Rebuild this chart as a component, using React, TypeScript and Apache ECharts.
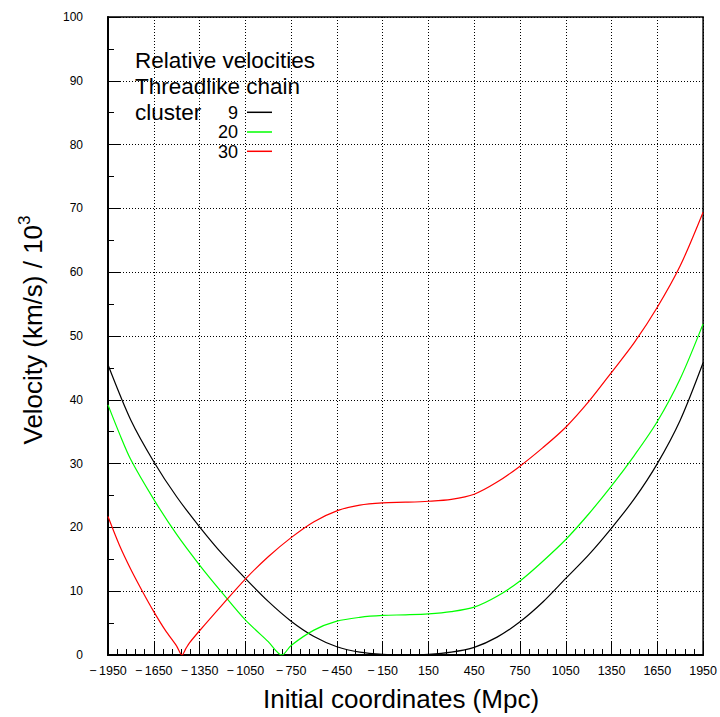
import React, { useEffect, useRef } from "react";
import * as echarts from "echarts";

// Shift so that ticks start at 0 (multiple of the interval); labels show the real coordinate.
const X_OFFSET = 1950;
const X_TICK_STEP = 300;
const Y_TICK_STEP = 10;

const CLUSTER_LABELS = ["9", "20", "30"];
const SERIES_COLORS = ["#000000", "#00ff00", "#ff0000"];

const BLACK_X = [-1950, -1800, -1650, -1500, -1350, -1200, -1050, -900, -750, -600, -450, -300, -150, 0, 150, 300, 450, 600, 750, 900, 1050, 1200, 1350, 1500, 1650, 1800, 1950];
const BLACK_Y = [45.5, 36.8, 30.3, 24.8, 20.1, 15.8, 12.0, 8.4, 5.3, 2.9, 1.3, 0.45, 0.12, 0.05, 0.12, 0.45, 1.2, 2.8, 5.2, 8.3, 12.0, 15.7, 19.9, 24.5, 30.0, 36.8, 45.8];

const GREEN_X = [-1950, -1875, -1800, -1650, -1500, -1350, -1200, -1050, -900, -810, -750, -600, -450, -300, -150, 0, 150, 300, 450, 600, 750, 900, 1050, 1200, 1350, 1500, 1650, 1800, 1950];
const GREEN_Y = [39.2, 34.7, 30.6, 24.4, 18.9, 14.1, 9.7, 5.5, 2.1, 0, 1.5, 3.9, 5.3, 5.9, 6.2, 6.3, 6.45, 6.8, 7.5, 9.2, 11.6, 14.7, 18.1, 22.1, 26.5, 31.3, 36.6, 43.3, 51.9];

const RED_X = [-1950, -1875, -1800, -1725, -1650, -1575, -1500, -1465, -1440, -1416, -1350, -1200, -1050, -900, -750, -600, -450, -300, -150, 0, 150, 300, 450, 600, 750, 900, 1050, 1200, 1350, 1500, 1650, 1800, 1950];
const RED_Y = [21.7, 17.2, 13.4, 10.0, 6.8, 3.9, 1.4, 0, 1.0, 1.9, 3.8, 7.9, 11.9, 15.4, 18.4, 20.9, 22.6, 23.5, 23.85, 23.95, 24.1, 24.4, 25.2, 27.1, 29.6, 32.5, 35.7, 39.7, 44.3, 49.0, 54.5, 61.0, 69.4];

const FONT = "'Liberation Sans', Arial, Helvetica, sans-serif";

function toPairs(xs: number[], ys: number[]) {
  return xs.map((x, i) => [x + X_OFFSET, ys[i]]);
}

export default function App() {
  const ref = useRef<HTMLDivElement>(null);

  useEffect(() => {
    if (!ref.current) return;
    const chart = echarts.init(ref.current, undefined, { renderer: "svg" });

    const dotted = { color: "#000", width: 1, type: [1, 2] as number[] };

    const option: any = {
      animation: false,
      backgroundColor: "#ffffff",
      textStyle: { fontFamily: FONT },
      grid: {
        left: 108,
        right: 13,
        top: 17,
        bottom: 60,
        show: true,
        borderColor: "#000",
        borderWidth: 1.5,
        containLabel: false,
      },
      xAxis: {
        type: "value",
        min: 0,
        max: 3900,
        interval: X_TICK_STEP,
        name: "Initial coordinates (Mpc)",
        nameLocation: "middle",
        nameGap: 31,
        nameTextStyle: { fontSize: 26, color: "#000", fontFamily: FONT, padding: [0, 9, 0, 0] },
        axisLine: { lineStyle: { color: "#000", width: 2 } },
        axisTick: { show: true, inside: true, length: 13, lineStyle: { color: "#000", width: 1 } },
        minorTick: { show: true, splitNumber: 5, length: 6, lineStyle: { color: "#000", width: 1 } },
        splitLine: { show: true, lineStyle: dotted },
        axisLabel: {
          fontSize: 12.5,
          color: "#000",
          fontFamily: FONT,
          margin: 9,
          formatter: (v: number) => {
            const x = Math.round(v - X_OFFSET);
            return x < 0 ? "\u2212\u2009" + Math.abs(x) : String(x);
          },
        },
      },
      yAxis: {
        type: "value",
        min: 0,
        max: 100,
        interval: Y_TICK_STEP,
        name: "{a|Velocity (km/s) / 10}{s|3}",
        nameLocation: "middle",
        nameGap: 62,
        nameTextStyle: {
          color: "#000",
          fontFamily: FONT,
          padding: [0, 0, 0, 12],
          rich: {
            a: { fontSize: 26, fontFamily: FONT, color: "#000", lineHeight: 30, verticalAlign: "bottom" },
            s: { fontSize: 17, fontFamily: FONT, color: "#000", verticalAlign: "top", lineHeight: 17 },
          },
        },
        axisLine: { lineStyle: { color: "#000", width: 2 } },
        axisTick: { show: true, inside: true, length: 12, lineStyle: { color: "#000", width: 1 } },
        minorTick: { show: true, splitNumber: 2, length: 6, lineStyle: { color: "#000", width: 1 } },
        splitLine: { show: true, lineStyle: dotted },
        axisLabel: { fontSize: 12, color: "#000", fontFamily: FONT, margin: 25 },
      },
      series: [
        { name: CLUSTER_LABELS[0], data: toPairs(BLACK_X, BLACK_Y), color: SERIES_COLORS[0] },
        { name: CLUSTER_LABELS[1], data: toPairs(GREEN_X, GREEN_Y), color: SERIES_COLORS[1] },
        { name: CLUSTER_LABELS[2], data: toPairs(RED_X, RED_Y), color: SERIES_COLORS[2] },
      ].map((s) => ({
        type: "line",
        name: s.name,
        data: s.data,
        showSymbol: false,
        smooth: 0.3,
        lineStyle: { color: s.color, width: 1.2 },
        itemStyle: { color: s.color },
      })),
      graphic: [
        { type: "text", x: 135, y: 60, style: { text: "Relative velocities", fontSize: 22.5, fontFamily: FONT, fill: "#000", align: "left", verticalAlign: "middle" } },
        { type: "text", x: 135, y: 86, style: { text: "Threadlike chain", fontSize: 22.5, fontFamily: FONT, fill: "#000", align: "left", verticalAlign: "middle" } },
        { type: "text", x: 135, y: 112, style: { text: "cluster", fontSize: 22.5, fontFamily: FONT, fill: "#000", align: "left", verticalAlign: "middle" } },
        ...CLUSTER_LABELS.map((lab, i) => ({
          type: "text",
          x: 238,
          y: [113, 132, 151.5][i],
          style: { text: lab, fontSize: 18, fontFamily: FONT, fill: "#000", align: "right", verticalAlign: "middle" },
        })),
        ...SERIES_COLORS.map((c, i) => ({
          type: "line",
          shape: { x1: 247, y1: [112.3, 132, 151.3][i], x2: 272, y2: [112.3, 132, 151.3][i] },
          style: { stroke: c, lineWidth: 1.5 },
        })),
      ],
    };

    chart.setOption(option);
    return () => chart.dispose();
  }, []);

  return (
    <div
      ref={ref}
      style={{ position: "absolute", left: 0, top: 0, width: 720, height: 717, background: "#fff" }}
    />
  );
}
